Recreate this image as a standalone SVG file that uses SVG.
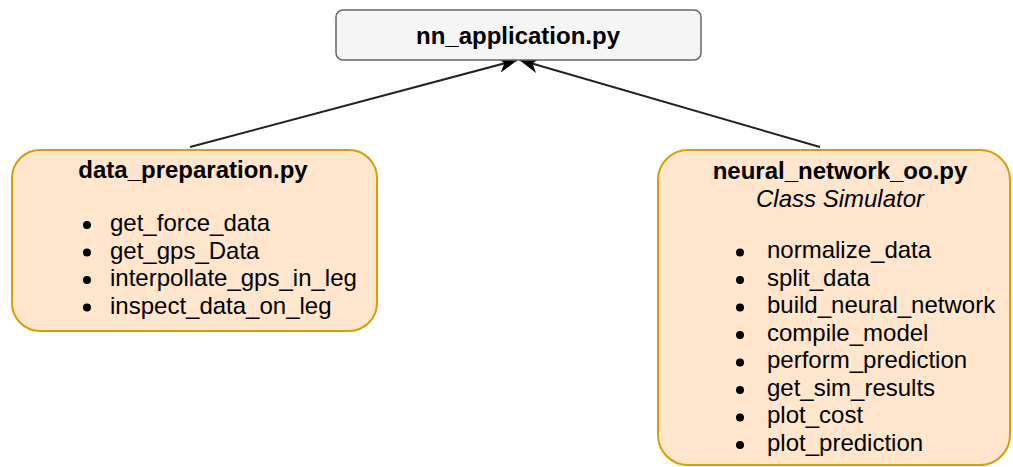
<svg xmlns="http://www.w3.org/2000/svg" width="1013" height="467" viewBox="0 0 1013 467">
<style>
text{font-family:"Liberation Sans",Arial,Helvetica,sans-serif;fill:#000;font-size:24px}
.b{font-weight:bold}
.i{font-style:italic}
.mid{text-anchor:middle}
.orange{fill:#ffe6cc;stroke:#d6a000;stroke-width:2}
.grey{fill:#f5f5f5;stroke:#666;stroke-width:1.5}
.conn{stroke:#222;stroke-width:2;fill:none}
.dot{fill:#000}
</style>
<defs>
<marker id="arr" viewBox="0 0 20 16" refX="19" refY="8" markerWidth="20" markerHeight="16" markerUnits="userSpaceOnUse" orient="auto">
<path d="M0,0 L20,8 L0,16 L6,8 Z" fill="#000"/>
</marker>
</defs>
<rect width="1013" height="467" fill="#fff"/>
<g id="connectors">
<line class="conn" x1="190" y1="147" x2="517" y2="60" marker-end="url(#arr)"/>
<line class="conn" x1="820" y1="147" x2="520" y2="60" marker-end="url(#arr)"/>
</g>
<g id="nn_application">
<rect class="grey" x="336" y="10" width="365" height="50" rx="7"/>
<text class="b mid" x="518" y="44">nn_application.py</text>
</g>
<g id="data_preparation">
<rect class="orange" x="12" y="150" width="365" height="181" rx="28"/>
<text class="b mid" x="193" y="178">data_preparation.py</text>
<circle class="dot" cx="87" cy="225" r="4"/>
<circle class="dot" cx="87" cy="252.5" r="4"/>
<circle class="dot" cx="87" cy="280" r="4"/>
<circle class="dot" cx="87" cy="307.5" r="4"/>
<text x="110" y="231">get_force_data</text>
<text x="110" y="258.5">get_gps_Data</text>
<text x="110" y="286">interpollate_gps_in_leg</text>
<text x="110" y="313.5">inspect_data_on_leg</text>
</g>
<g id="neural_network_oo">
<rect class="orange" x="658" y="150" width="352" height="315" rx="30"/>
<text class="b mid" x="840" y="179">neural_network_oo.py</text>
<text class="i mid" x="840" y="206.5">Class Simulator</text>
<circle class="dot" cx="740" cy="252.5" r="4"/>
<circle class="dot" cx="740" cy="280" r="4"/>
<circle class="dot" cx="740" cy="307.5" r="4"/>
<circle class="dot" cx="740" cy="335" r="4"/>
<circle class="dot" cx="740" cy="362.5" r="4"/>
<circle class="dot" cx="740" cy="390" r="4"/>
<circle class="dot" cx="740" cy="417.5" r="4"/>
<circle class="dot" cx="740" cy="445" r="4"/>
<text x="767" y="258">normalize_data</text>
<text x="767" y="285.5">split_data</text>
<text x="767" y="313">build_neural_network</text>
<text x="767" y="340.5">compile_model</text>
<text x="767" y="368">perform_prediction</text>
<text x="767" y="395.5">get_sim_results</text>
<text x="767" y="423">plot_cost</text>
<text x="767" y="450.5">plot_prediction</text>
</g>
</svg>
